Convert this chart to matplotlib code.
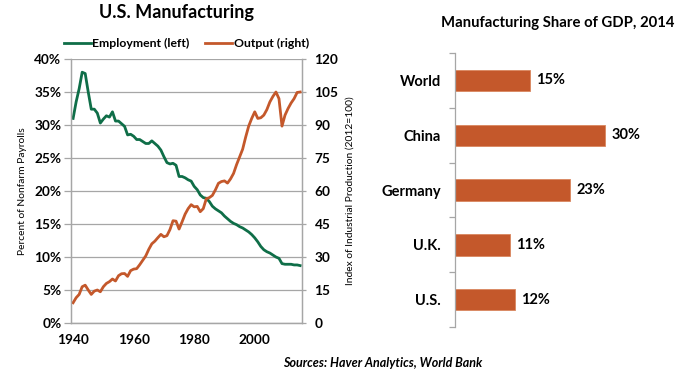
import numpy as np
import matplotlib.pyplot as plt

plt.rcParams['font.family'] = ['Lato', 'DejaVu Sans']
plt.rcParams['font.weight'] = 'bold'

YEARS = np.arange(1940, 2016)

EMPLOYMENT = [
    31.0, 33.5, 35.5, 38.0, 37.8, 35.0, 32.4, 32.4, 31.8, 30.3,
    30.9, 31.4, 31.2, 32.0, 30.6, 30.6, 30.2, 29.8, 28.5, 28.6,
    28.3, 27.8, 27.8, 27.5, 27.2, 27.2, 27.6, 27.2, 26.8, 26.2,
    25.2, 24.3, 24.1, 24.2, 23.9, 22.2, 22.2, 22.0, 21.7, 21.5,
    20.7, 20.2, 19.4, 19.0, 18.9, 18.4, 17.7, 17.3, 17.0, 16.7,
    16.2, 15.8, 15.4, 15.1, 14.9, 14.6, 14.4, 14.1, 13.8, 13.4,
    12.9, 12.3, 11.6, 11.1, 10.8, 10.6, 10.3, 10.0, 9.8, 9.0,
    8.9, 8.9, 8.9, 8.8, 8.8, 8.7,
]

OUTPUT = [
    9.2, 11.5, 13.0, 16.5, 17.2, 15.0, 13.0, 14.5, 15.0, 14.2,
    16.5, 18.0, 18.8, 20.0, 19.1, 21.5, 22.4, 22.5, 21.2, 23.8,
    24.5, 24.7, 26.5, 28.5, 30.5, 33.5, 36.0, 37.2, 38.8, 40.3,
    39.2, 39.7, 42.5, 46.5, 46.3, 42.7, 46.0, 49.5, 52.0, 53.8,
    52.8, 53.0, 50.6, 52.0, 56.5, 57.0, 58.0, 60.5, 63.5, 64.3,
    64.6, 63.6, 65.5, 68.0, 72.0, 75.5, 79.0, 84.5, 89.5, 93.0,
    96.0, 93.0, 93.3, 94.5, 97.0, 100.5, 103.0, 105.0, 102.0, 89.5,
    94.5, 97.5, 100.0, 102.0, 104.8, 105.0,
]

COUNTRIES = ["World", "China", "Germany", "U.K.", "U.S."]
SHARE_2014 = [15, 30, 23, 11, 12]

GREEN = "#0F6E48"
ORANGE = "#C4582B"
GRID = "#A6A6A6"

fig = plt.figure(figsize=(7, 3.81), dpi=100)

# --- left: employment vs output ---
ax = fig.add_axes([0.1014, 0.1522, 0.33, 0.6929])
ax2 = ax.twinx()

l1, = ax.plot(YEARS, EMPLOYMENT, color=GREEN, lw=2, label="Employment (left)")
l2, = ax2.plot(YEARS, OUTPUT, color=ORANGE, lw=2, label="Output (right)")

ax.set_xlim(1939.3, 2015.6)
ax.set_ylim(0, 40)
ax2.set_ylim(0, 120)
ax.set_yticks(np.arange(0, 41, 5))
ax.set_yticklabels([f"{v}%" for v in range(0, 41, 5)])
ax2.set_yticks(np.arange(0, 121, 15))
ax.set_xticks([1940, 1960, 1980, 2000])

ax.grid(axis="y", color=GRID, lw=0.9)
ax.set_axisbelow(True)
for a in (ax, ax2):
    a.spines["top"].set_visible(False)
    for s in ("left", "right", "bottom"):
        a.spines[s].set_color(GRID)
        a.spines[s].set_linewidth(0.9)
ax.tick_params(axis="y", colors=GRID, labelcolor="black", labelsize=9.8, length=5, width=0.9, pad=2)
ax2.tick_params(axis="y", colors=GRID, labelcolor="black", labelsize=9.8, length=3, width=0.9, pad=6)
ax.tick_params(axis="x", length=0, labelsize=9.8, pad=8)

ax.set_ylabel("Percent of Nonfarm Payrolls", fontsize=7.4, labelpad=5)
ax2.set_ylabel("Index of Industrial Production (2012=100)", fontsize=7.4, labelpad=5)

fig.text(0.252, 0.968, "U.S. Manufacturing", ha="center", va="center", fontsize=13)
ax.legend(handles=[l1, l2], loc="lower center", bbox_to_anchor=(0.5, 1.0), ncol=2,
          frameon=False, fontsize=8.8, handlelength=2.2, handletextpad=0.1,
          columnspacing=1.3, borderaxespad=0.4)

# --- right: manufacturing share of GDP ---
bx = fig.add_axes([0.65, 0.1417, 0.3214, 0.719])
pos = np.arange(len(COUNTRIES))[::-1]
bars = bx.barh(pos, SHARE_2014, height=0.39, color=ORANGE, edgecolor="#D9875F", linewidth=0.6)
for b, v in zip(bars, SHARE_2014):
    bx.text(b.get_width() + 1.3, b.get_y() + b.get_height() / 2, f"{v}%",
            va="center", ha="left", fontsize=10.5)

bx.set_xlim(0, 45)
bx.set_ylim(-0.5, 4.5)
bx.set_yticks(np.arange(-0.5, 5, 1), minor=False)
bx.set_yticklabels([])
bx.set_yticks(pos, minor=True)
bx.set_yticklabels(COUNTRIES, minor=True)
bx.tick_params(axis="y", which="major", length=4, colors=GRID, width=0.9)
bx.tick_params(axis="y", which="minor", length=0, labelsize=10.5, pad=10)
bx.set_xticks([])
for s in ("top", "right", "bottom"):
    bx.spines[s].set_visible(False)
bx.spines["left"].set_color(GRID)
bx.spines["left"].set_linewidth(0.9)

fig.text(0.797, 0.94, "Manufacturing Share of GDP, 2014", ha="center", va="center", fontsize=10.7)

fig.text(0.546, 0.047, "Sources: Haver Analytics, World Bank", ha="center", va="center",
         fontsize=9, style="italic")

fig.savefig("out.png", dpi=100)
